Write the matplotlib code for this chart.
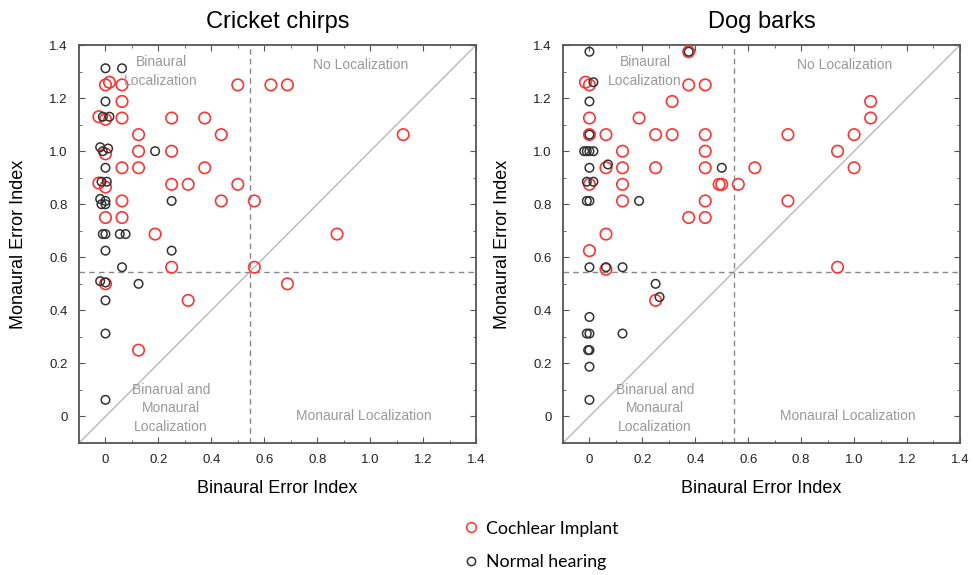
import matplotlib
matplotlib.use("Agg")
import matplotlib.pyplot as plt
from matplotlib.ticker import MultipleLocator, FuncFormatter

# Cricket chirps - cochlear implant (red)
cricket_ci_x = [0, 0.015, 0.0625, 0.5, 0.625, 0.6875,
                0.0625,
                -0.025, 0, 0.0625, 0.25, 0.375,
                0.125, 0.4375, 1.125,
                0, 0.125, 0.25,
                0.0625, 0.125, 0.375,
                -0.025, 0, 0.25, 0.3125, 0.5,
                0.0625, 0.4375, 0.5625,
                0, 0.0625,
                0.1875, 0.875,
                0.25, 0.5625,
                0, 0.6875,
                0.3125,
                0.125]
cricket_ci_y = [1.25, 1.26, 1.25, 1.25, 1.25, 1.25,
                1.1875,
                1.13, 1.12, 1.125, 1.125, 1.125,
                1.0625, 1.0625, 1.0625,
                0.99, 1.0, 1.0,
                0.9375, 0.9375, 0.9375,
                0.88, 0.865, 0.875, 0.875, 0.875,
                0.8125, 0.8125, 0.8125,
                0.75, 0.75,
                0.6875, 0.6875,
                0.5625, 0.5625,
                0.5, 0.5,
                0.4375,
                0.25]

# Cricket chirps - normal hearing (black)
cricket_nh_x = [0, 0.0625, 0,
                -0.01, 0.015,
                -0.02, 0.01, -0.01,
                0.1875, 0,
                -0.015, 0.005,
                -0.02, 0, -0.015, 0,
                0.25,
                -0.01, 0, 0.054, 0.076,
                0, 0.25,
                0.0625,
                -0.02, 0, 0.125,
                0, 0, 0]
cricket_nh_y = [1.3125, 1.3125, 1.1875,
                1.13, 1.13,
                1.015, 1.01, 1.0,
                1.0, 0.9375,
                0.885, 0.885,
                0.82, 0.8125, 0.80, 0.80,
                0.8125,
                0.6875, 0.6875, 0.6875, 0.6875,
                0.625, 0.625,
                0.5625,
                0.51, 0.505, 0.5,
                0.4375, 0.3125, 0.0625]

# Dog barks - cochlear implant (red)
dog_ci_x = [0.375, -0.015, 0, 0.375, 0.4375,
            0.3125, 1.0625,
            0, 0.1875, 1.0625,
            0, 0.0625, 0.25, 0.3125, 0.4375, 0.75, 1.0,
            0.125, 0.4375, 0.9375,
            0.0625, 0.125, 0.25, 0.4375, 0.625, 1.0,
            0, 0.125, 0.49, 0.5, 0.5625,
            0.125, 0.4375, 0.75,
            0.375, 0.4375,
            0.0625, 0,
            0.0625, 0.9375, 0.25]
dog_ci_y = [1.375, 1.26, 1.25, 1.25, 1.25,
            1.1875, 1.1875,
            1.125, 1.125, 1.125,
            1.0625, 1.0625, 1.0625, 1.0625, 1.0625, 1.0625, 1.0625,
            1.0, 1.0, 1.0,
            0.9375, 0.9375, 0.9375, 0.9375, 0.9375, 0.9375,
            0.875, 0.875, 0.875, 0.875, 0.875,
            0.8125, 0.8125, 0.8125,
            0.75, 0.75,
            0.6875, 0.625,
            0.555, 0.5625, 0.4375]

# Dog barks - normal hearing (black)
dog_nh_x = [0, 0.375, 0.015, 0, 0,
            -0.02, -0.01, 0, 0.015,
            0, 0.07, 0.5,
            -0.01, 0.015,
            -0.01, 0, 0.1875,
            0, 0.0625, 0.125,
            0.25, 0.265,
            0, -0.01, 0, 0.125,
            -0.005, 0, 0, 0]
dog_nh_y = [1.375, 1.375, 1.26, 1.1875, 1.0625,
            1.0, 1.0, 1.0, 1.0,
            0.9375, 0.95, 0.9375,
            0.885, 0.885,
            0.8125, 0.8125, 0.8125,
            0.5625, 0.5625, 0.5625,
            0.5, 0.45,
            0.375, 0.3125, 0.3125, 0.3125,
            0.25, 0.25, 0.1875, 0.0625]

THRESH = 0.545
RED = "#ff3333"
BLACK = "#333333"
GRAY_TXT = "#999999"

fig = plt.figure(figsize=(9.73, 5.75), dpi=100)
plt.rcParams['font.family'] = ['Liberation Sans', 'DejaVu Sans']


def fmt(v, pos):
    return "0" if abs(v) < 1e-9 else f"{v:.1f}"


def draw_panel(ax, title, ci_x, ci_y, nh_x, nh_y):
    ax.plot([-0.1, 1.4], [-0.1, 1.4], color="#b8b8b8", lw=1.0, zorder=1)
    ax.axvline(THRESH, color="#888888", lw=1.0, ls=(0, (4, 3)), zorder=1)
    ax.axhline(THRESH, color="#888888", lw=1.0, ls=(0, (4, 3)), zorder=1)
    ax.scatter(ci_x, ci_y, s=68, facecolors="none", edgecolors=RED,
               linewidths=1.2, zorder=3)
    ax.scatter(nh_x, nh_y, s=38, facecolors="none", edgecolors=BLACK,
               linewidths=1.1, zorder=3)
    ax.set_xlim(-0.1, 1.4)
    ax.set_ylim(-0.1, 1.4)
    ax.xaxis.set_major_locator(MultipleLocator(0.2))
    ax.yaxis.set_major_locator(MultipleLocator(0.2))
    ax.xaxis.set_minor_locator(MultipleLocator(0.1))
    ax.yaxis.set_minor_locator(MultipleLocator(0.1))
    ax.xaxis.set_major_formatter(FuncFormatter(fmt))
    ax.yaxis.set_major_formatter(FuncFormatter(fmt))
    ax.tick_params(which="both", direction="in", top=True, right=True,
                   color="#555555", labelsize=9.5, labelcolor="#222222")
    ax.tick_params(which="major", length=4, pad=8)
    ax.tick_params(which="minor", length=2.5)
    for sp in ax.spines.values():
        sp.set_color("#555555")
        sp.set_linewidth(1.3)
    ax.set_title(title, fontsize=17, pad=12)
    ax.set_xlabel("Binaural Error Index", fontsize=13, labelpad=10)
    ax.set_ylabel("Monaural Error Index", fontsize=13, labelpad=16)
    kw = dict(color=GRAY_TXT, fontsize=10, ha="center", va="center",
              linespacing=1.4)
    ax.text(0.21, 1.30, "Binaural\nLocalization", **kw)
    ax.text(0.965, 1.325, "No Localization", **kw)
    ax.text(0.247, 0.03, "Binarual and\nMonaural\nLocalization", **kw)
    ax.text(0.975, 0.0, "Monaural Localization", **kw)


ax1 = fig.add_axes([0.0812, 0.2296, 0.408, 0.692])
ax2 = fig.add_axes([0.5786, 0.2296, 0.408, 0.692])
draw_panel(ax1, "Cricket chirps", cricket_ci_x, cricket_ci_y,
           cricket_nh_x, cricket_nh_y)
draw_panel(ax2, "Dog barks", dog_ci_x, dog_ci_y, dog_nh_x, dog_nh_y)

# legend below the panels
h_ci = plt.Line2D([], [], ls="none", marker="o", ms=7, mfc="none",
                  mec=RED, mew=1.1)
h_nh = plt.Line2D([], [], ls="none", marker="o", ms=6, mfc="none",
                  mec=BLACK, mew=1.1)
fig.legend([h_ci, h_nh], ["Cochlear Implant", "Normal hearing"],
           loc="upper left", bbox_to_anchor=(0.468, 0.107), frameon=False,
           prop={"family": "Lato", "size": 12.8}, handletextpad=0.3,
           labelspacing=1.0, handlelength=1.0, borderaxespad=0)

fig.savefig("out.png", dpi=100)
